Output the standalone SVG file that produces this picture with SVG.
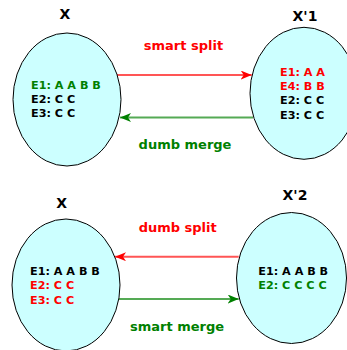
<svg xmlns="http://www.w3.org/2000/svg" width="347" height="350" viewBox="0 0 347 350">
<defs>
<style>
text{font-family:"DejaVu Sans","Verdana",sans-serif;font-weight:bold}
.title{font-size:14px;fill:#000;text-anchor:middle}
.body{font-size:11.2px}
.lbl{font-size:13px;text-anchor:middle}
.k{fill:#000}.r{fill:#ff0000}.g{fill:#008000}
.node{fill:#ccffff;stroke:#000;stroke-width:1}
.lr{stroke:#ff5555;stroke-width:2;fill:none}
.lg{stroke:#55aa55;stroke-width:2;fill:none}
</style>
<marker id="ar" viewBox="0 0 11 9" refX="11" refY="4.5" markerWidth="11" markerHeight="9" markerUnits="userSpaceOnUse" orient="auto">
<path d="M0,0 L11,4.5 L0,9 L3,4.5 Z" fill="#ff0000"/>
</marker>
<marker id="ag" viewBox="0 0 11 9" refX="11" refY="4.5" markerWidth="11" markerHeight="9" markerUnits="userSpaceOnUse" orient="auto">
<path d="M0,0 L11,4.5 L0,9 L3,4.5 Z" fill="#008000"/>
</marker>
</defs>
<g id="connectors">
<line class="lr" x1="117" y1="75" x2="251.7" y2="75" marker-end="url(#ar)"/>
<line class="lg" x1="253" y1="117.5" x2="120" y2="117.5" marker-end="url(#ag)"/>
<line class="lr" x1="238.7" y1="256.7" x2="115" y2="256.7" marker-end="url(#ar)"/>
<line class="lg" x1="119" y1="299" x2="238.7" y2="299" marker-end="url(#ag)"/>
<text class="lbl r" x="183.5" y="50">smart split</text>
<text class="lbl g" x="185" y="148.5">dumb merge</text>
<text class="lbl r" x="177.7" y="231.7">dumb split</text>
<text class="lbl g" x="177" y="331">smart merge</text>
</g>
<g id="X_top">
<text class="title" x="65" y="19">X</text>
<ellipse class="node" cx="67" cy="99.5" rx="54" ry="66.5"/>
<text class="body g" x="31" y="88.7">E1: A A B B</text>
<text class="body k" x="31" y="102.7">E2: C C</text>
<text class="body k" x="31" y="116.7">E3: C C</text>
</g>
<g id="X1">
<text class="title" x="305" y="20.7">X'1</text>
<ellipse class="node" cx="304" cy="93.3" rx="54" ry="66"/>
<text class="body r" x="280" y="75.7">E1: A A</text>
<text class="body r" x="280" y="90">E4: B B</text>
<text class="body k" x="280" y="104.3">E2: C C</text>
<text class="body k" x="280" y="118.7">E3: C C</text>
</g>
<g id="X_bottom">
<text class="title" x="61.7" y="207.7">X</text>
<ellipse class="node" cx="66" cy="285" rx="54" ry="66"/>
<text class="body k" x="30" y="275">E1: A A B B</text>
<text class="body r" x="30" y="289.3">E2: C C</text>
<text class="body r" x="30" y="303.7">E3: C C</text>
</g>
<g id="X2">
<text class="title" x="295" y="200">X'2</text>
<ellipse class="node" cx="291.5" cy="278" rx="55" ry="65.5"/>
<text class="body k" x="258.3" y="275">E1: A A B B</text>
<text class="body g" x="258.3" y="289.3">E2: C C C C</text>
</g>
</svg>
